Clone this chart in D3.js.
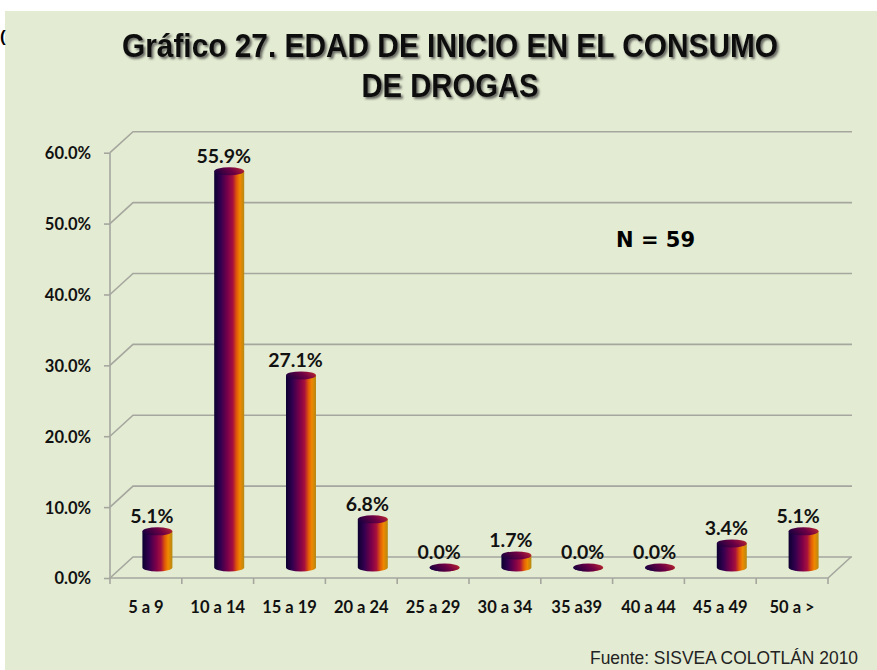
<!DOCTYPE html>
<html>
<head>
<meta charset="utf-8">
<script src="https://cdn.jsdelivr.net/npm/d3@7"></script>
<style>
  body { margin: 0; background: #fff; }
  svg { display: block; }
</style>
</head>
<body>
<svg id="chart" width="877" height="670"></svg>
<script>
// data
var categories = ["5 a 9", "10 a 14", "15 a 19", "20 a 24", "25 a 29", "30 a 34", "35 a39", "40 a 44", "45 a 49", "50 a >"];
var values = [5.1, 55.9, 27.1, 6.8, 0.0, 1.7, 0.0, 0.0, 3.4, 5.1];
var yTicks = [0, 10, 20, 30, 40, 50, 60];
var titleLines = ["Gráfico 27. EDAD DE INICIO EN EL CONSUMO", "DE DROGAS"];
var note = "N = 59";
var source = "Fuente: SISVEA COLOTLÁN 2010";

var svg = d3.select("#chart");
var depth = { dx: 23, dy: -21 };
var grid = "#a5a79f";

var defs = svg.append("defs");
var f = defs.append("filter").attr("id", "shadow").attr("x", "-5%").attr("y", "-20%").attr("width", "110%").attr("height", "140%");
f.append("feDropShadow").attr("dx", 2).attr("dy", 2).attr("stdDeviation", 1.3)
  .attr("flood-color", "#333").attr("flood-opacity", 0.7);

var sideGrad = defs.append("linearGradient").attr("id", "cyl").attr("x1", 0).attr("x2", 1).attr("y1", 0).attr("y2", 0);
[["0%", "#0b0030"], ["22%", "#33004f"], ["45%", "#7a004a"], ["62%", "#a8103c"], ["75%", "#e05a08"], ["86%", "#f08800"], ["100%", "#b58a12"]]
  .forEach(function(s) { sideGrad.append("stop").attr("offset", s[0]).attr("stop-color", s[1]); });
var capGrad = defs.append("linearGradient").attr("id", "cap").attr("x1", 0).attr("x2", 1).attr("y1", 0.3).attr("y2", 0);
[["0%", "#240040"], ["50%", "#6e0045"], ["80%", "#a01838"], ["100%", "#c8501a"]]
  .forEach(function(s) { capGrad.append("stop").attr("offset", s[0]).attr("stop-color", s[1]); });

// panel
svg.append("rect").attr("x", 5).attr("y", 11).attr("width", 872).attr("height", 659).attr("fill", "#e3ebd2");
svg.append("text").attr("x", 0).attr("y", 42).attr("font-family", "Liberation Sans").attr("font-weight", "bold")
  .attr("font-size", 17).text("(");

// title
svg.selectAll(".title").data(titleLines).enter().append("text")
  .attr("class", "title")
  .attr("x", 450)
  .attr("y", function(d, i) { return 57 + i * 40; })
  .attr("text-anchor", "middle")
  .attr("font-family", "'Liberation Sans Narrow', 'Arial Narrow', 'Liberation Sans', sans-serif")
  .attr("font-weight", "bold")
  .attr("font-size", 33)
  .attr("textLength", function(d, i) { return i === 0 ? 656 : 177; })
  .attr("lengthAdjust", "spacingAndGlyphs")
  .attr("fill", "#111")
  .attr("filter", "url(#shadow)")
  .text(function(d) { return d; });

// scales
var x = d3.scaleBand().domain(categories).range([110, 828]).paddingInner(0).paddingOuter(0);
var y = d3.scaleLinear().domain([0, 60]).range([578, 152.7]);

// back grid lines with the depth diagonal
var gl = svg.append("g");
yTicks.forEach(function(t) {
  gl.append("path")
    .attr("d", "M110," + y(t) + "L" + (110 + depth.dx) + "," + (y(t) + depth.dy) + "H852")
    .attr("fill", "none").attr("stroke", grid).attr("stroke-width", 1.6);
});
// floor
gl.append("path")
  .attr("d", "M110," + y(0) + "H828L" + (828 + depth.dx) + "," + (y(0) + depth.dy))
  .attr("fill", "none").attr("stroke", grid).attr("stroke-width", 1.6);
// front vertical axis
gl.append("line").attr("x1", 110).attr("x2", 110).attr("y1", y(60)).attr("y2", y(0))
  .attr("stroke", grid).attr("stroke-width", 1.6);

// y axis labels
var yAxis = svg.append("g").attr("transform", "translate(110,0)")
  .call(d3.axisLeft(y).tickValues(yTicks).tickSize(6).tickPadding(13)
    .tickFormat(function(d) { return d3.format(".1f")(d) + "%"; }));
yAxis.select(".domain").remove();
yAxis.selectAll(".tick line").attr("stroke", grid).attr("stroke-width", 1.6);
yAxis.selectAll(".tick text").attr("font-family", "Lato, 'Liberation Sans', sans-serif")
  .attr("font-weight", "bold").attr("font-size", 16.5).attr("fill", "#111").attr("dy", "0.36em");

// x axis labels and ticks
var xAxis = svg.append("g").attr("transform", "translate(0," + y(0) + ")")
  .call(d3.axisBottom(x).tickSize(0).tickPadding(35));
xAxis.select(".domain").remove();
xAxis.selectAll(".tick text").attr("font-family", "Lato, 'Liberation Sans', sans-serif")
  .attr("font-weight", "bold").attr("font-size", 16.5).attr("fill", "#111").attr("dy", "0");
var bounds = categories.map(function(c) { return x(c); }).concat([x.range()[1]]);
xAxis.selectAll(".sep").data(bounds).enter().append("line")
  .attr("x1", function(d) { return d; }).attr("x2", function(d) { return d; })
  .attr("y1", 0).attr("y2", 6).attr("stroke", grid).attr("stroke-width", 1.6);

// cylinders
var rx = 15, ry = 4;
var bars = svg.append("g").selectAll(".bar")
  .data(categories.map(function(c, i) { return { cat: c, value: values[i] }; }))
  .enter().append("g").attr("class", "bar");

function cx(d) { return x(d.cat) + x.bandwidth() / 2 + depth.dx / 2; }
function yb(v) { return y(v) + depth.dy / 2; }

bars.append("path")
  .attr("d", function(d) {
    var c = cx(d), b = yb(0), t = yb(d.value);
    return "M" + (c - rx) + "," + t + "V" + b +
      "A" + rx + "," + ry + " 0 0 0 " + (c + rx) + "," + b +
      "V" + t + "Z";
  })
  .attr("fill", "url(#cyl)");
bars.append("ellipse")
  .attr("cx", cx)
  .attr("cy", function(d) { return yb(d.value); })
  .attr("rx", rx).attr("ry", ry)
  .attr("fill", "url(#cap)");

bars.append("text")
  .attr("x", function(d) { return cx(d) - 5.5; })
  .attr("y", function(d) { return yb(d.value) - 8.5; })
  .attr("text-anchor", "middle")
  .attr("font-family", "Lato, 'Liberation Sans', sans-serif")
  .attr("font-weight", "bold").attr("font-size", 19.5).attr("fill", "#111")
  .text(function(d) { return d3.format(".1f")(d.value) + "%"; });

// annotation and source
svg.append("text").attr("x", 616).attr("y", 247)
  .attr("font-family", "'DejaVu Sans', sans-serif").attr("font-weight", "bold")
  .attr("font-size", 21).attr("fill", "#000").text(note);

svg.append("text").attr("x", 590).attr("y", 664)
  .attr("font-family", "'Liberation Sans Narrow', 'Liberation Sans', sans-serif")
  .attr("font-size", 18.5).attr("fill", "#222")
  .attr("textLength", 268).attr("lengthAdjust", "spacingAndGlyphs")
  .text(source);
</script>
</body>
</html>
